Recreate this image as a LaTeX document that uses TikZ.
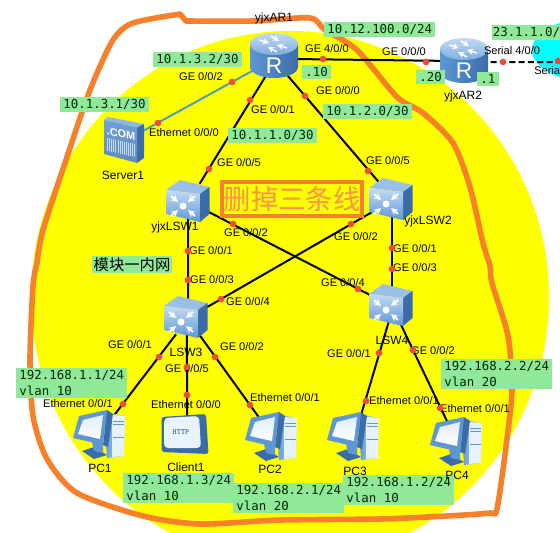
\documentclass[tikz,border=0pt]{standalone}
\usepackage{fontspec}
\setmainfont{Liberation Sans}
\newfontfamily\monolab{DejaVu Sans Mono}
\newfontfamily\cjkfont{Noto Sans CJK SC}
\definecolor{inkorange}{HTML}{F7812B}
\definecolor{labgreen}{HTML}{8FE998}
\definecolor{iconblue}{HTML}{5E97D6}
\definecolor{icondark}{HTML}{3A6DA8}
\definecolor{iconlight}{HTML}{C4DBF3}
\definecolor{zoneyellow}{HTML}{FFFF00}
\definecolor{zonecyan}{HTML}{00FFFF}
\definecolor{dotred}{HTML}{F04A3C}
\definecolor{linkteal}{HTML}{4F9FB8}
\tikzset{
	devbox/.style={inner sep=0pt,minimum size=25.5pt},
	link/.style={line width=1.5pt,black},
	ifdot/.style={circle,fill=dotred,inner sep=0pt,minimum size=5pt},
	iflabel/.style={font=\fontsize{8.3pt}{9pt}\selectfont,inner sep=0pt},
	devlabel/.style={font=\fontsize{9pt}{10pt}\selectfont,inner sep=0pt},
	greenbox/.style={fill=labgreen,anchor=north west,align=left,inner xsep=2.4pt,inner ysep=1.6pt,text=black!85!green,font=\monolab\fontsize{9.3pt}{12pt}\selectfont},
	routerpic/.pic={
		\shade[left color=iconblue,middle color=iconlight!70!iconblue,right color=icondark] (-24,-11) -- (-24,12) arc[start angle=180,end angle=0,x radius=24,y radius=11] -- (24,-11) -- cycle;
		\shade[top color=iconlight,bottom color=iconblue!80!white] (0,-11) ellipse[x radius=24,y radius=11];
		\foreach \xa/\ya/\xb/\yb in {-15/-15/-5/-12,13/-7/3/-10,-3/-19/5/-14,3/-3/-6/-8}
			\draw[white,line width=1.1pt,-stealth] (\xa,\ya) -- (\xb,\yb);
		\node[text=white,inner sep=0pt,font=\fontsize{17pt}{17pt}\selectfont] (-r) at (0,11) {R};
	},
	switchpic/.pic={
		\fill[iconlight!60!iconblue] (-22,-11) -- (-8,-21) -- (21.5,-14) -- (12,-7) -- cycle;
		\fill[icondark] (12,-7) -- (21.5,-14) -- (21.5,13) -- (12,21) -- cycle;
		\shade[top color=iconlight,bottom color=iconblue] (-22,-11) -- (12,-7) -- (12,21) -- (-22,13) -- cycle;
		\fill[white] (-5,5) circle (3.5);
		\foreach \dx/\dy in {-1/-1,1/-1,-1/1,1/1}
			\draw[white,line width=1.4pt,-stealth] ({-5+\dx*12},{5+\dy*10}) -- ({-5+\dx*5},{5+\dy*4});
	},
	serverpic/.pic={
		\fill[iconblue!70!white] (-20,-20) -- (-16,-23) -- (20,-16) -- (13,-12.5) -- cycle;
		\fill[icondark] (13,-12.5) -- (20,-16) -- (20,18) -- (13,23) -- cycle;
		\shade[top color=iconblue!90!white,bottom color=icondark!80!white] (-20,-20) -- (13,-12.5) -- (13,23) -- (-20,14) -- cycle;
		\foreach \x in {-17,-15,-13,-11,-9,-6,-4,-2,0,2,4,6,8,10}
			\draw[iconlight,line width=.5pt] (\x,{-20+(\x+20)*.23+17}) -- (\x,{-20+(\x+20)*.23+30});
		\node[text=white,inner sep=0pt,yslant=-.23,transform shape,font=\bfseries\fontsize{8.2pt}{9pt}\selectfont] (-com) at (-3,-6) {.COM};
	},
	pcpic/.pic={
		\shade[left color=iconblue,right color=iconlight] (4,-22) -- (25,-18) -- (24,22) -- (7,24) -- cycle;
		\fill[iconlight!40!white] (12,-19) -- (25,-18) -- (24,22) -- (12,23) -- cycle;
		\foreach \y in {-13,-10,3}
			\draw[iconblue,line width=.6pt] (13,\y) -- (24,\y);
		\fill[icondark] (-18,17) -- (-6,13) -- (7,21) -- (-6,25) -- cycle;
		\fill[iconblue] (-8,8) -- (3,10) -- (3,19) -- (-6,17) -- cycle;
		\fill[icondark] (7,-24) -- (13,-20) -- (8,13) -- (3,11) -- cycle;
		\fill[iconblue] (-21,-18) -- (7,-24) -- (3,11) -- (-27,4) -- cycle;
		\shade[top color=iconlight!50!white,bottom color=white] (-17,-14) -- (3,-19) -- (0,5) -- (-22,0) -- cycle;
	},
	clientpic/.pic={
		\fill[icondark,rounded corners=2pt] (-23.5,-17) -- (21,-20) -- (23.5,20) -- (-23.5,18) -- cycle;
		\fill[iconlight!35!white,rounded corners=3pt] (-21,-16) -- (14,-18) -- (16,14) -- (-21,14) -- cycle;
		\node[text=icondark,inner sep=0pt,font=\ttfamily\bfseries\fontsize{6pt}{7pt}\selectfont] (-http) at (-4,-2) {HTTP};
	},
}
\begin{document}
\begin{tikzpicture}[x=.75pt,y=-.75pt]
	\useasboundingbox (0,0) rectangle (560,532);
	\clip (0,0) rectangle (560,532);
	\fill[zoneyellow] (290,297) ellipse[x radius=259,y radius=266];
	\fill[zonecyan] (592,50) ellipse[x radius=60,y radius=32];
	% pen stroke
	\draw[inkorange,line width=4.2pt,line join=round,line cap=round] plot[smooth,tension=.45] coordinates {
		(37,263) (43,230) (67,157) (90,90) (113,40) (133,23) (180,14)} -- (186,21) -- plot[smooth,tension=.45] coordinates {
		(186,21) (253,21) (310,18) (325,30) (357,50) (397,97) (423,113) (453,143) (470,187) (483,243) (490,266)
		(492,283) (508,336) (512,389) (507,439) (497,509) (490,513) (447,516) (380,519) (280,520) (200,524) (143,516)
		(77,493) (47,459) (33,416) (30,359) (33,286) (37,263)};
	\node[devbox] (ar1) at (274,55) {};
	\node[devbox] (ar2) at (464,60) {};
	\node[devbox] (server1) at (124,140) {};
	\node[devbox] (lsw1) at (188,201) {};
	\node[devbox] (lsw2) at (391,199) {};
	\node[devbox] (lsw3) at (186,317) {};
	\node[devbox] (lsw4) at (391,305) {};
	\node[devbox] (pc1) at (100,434) {};
	\node[devbox] (client1) at (185,434) {};
	\node[devbox] (pc2) at (272,436) {};
	\node[devbox] (pc3) at (354,436) {};
	\node[devbox] (pc4) at (457,441) {};
	\coordinate (serialend) at (575,62);
	\draw[line width=1.5pt,color=linkteal] (ar1.-142) -- (server1.25);
	\draw[link] (ar1.-109) -- (lsw1.56);
	\draw[link] (ar1.-58) -- (lsw2.126);
	\draw[link] (ar1.-13) -- (ar2.183);
	\draw[link,dash pattern=on 4.5pt off 2.5pt] (ar2.-7) -- (serialend);
	\draw[link] (lsw1.-90) -- (lsw3.83);
	\draw[link] (lsw1.-28) -- (lsw4.155);
	\draw[link] (lsw2.-145) -- (lsw3.24);
	\draw[link] (lsw2.-87) -- (lsw4.87);
	\draw[link] (lsw3.-120) -- (pc1.53);
	\draw[link] (lsw3.-87) -- (client1.83);
	\draw[link] (lsw3.-53) -- (pc2.125);
	\draw[link] (lsw4.-98) -- (pc3.71);
	\draw[link] (lsw4.-63) -- (pc4.117);
	\pic (iconar1) at (ar1) {routerpic};
	\pic (iconar2) at (ar2) {routerpic};
	\pic (iconserver) at (server1) {serverpic};
	\pic at (lsw1) {switchpic};
	\pic at (lsw2) {switchpic};
	\pic at (lsw3) {switchpic};
	\pic at (lsw4) {switchpic};
	\pic at (pc1) {pcpic};
	\pic (iconclient) at (client1) {clientpic};
	\pic at (pc2) {pcpic};
	\pic at (pc3) {pcpic};
	\pic at (pc4) {pcpic};
	% address boxes
	\node[greenbox] (net1) at (153,52) {10.1.3.2/30};
	\node[greenbox] (net2) at (60,97) {10.1.3.1/30};
	\node[greenbox] (net3) at (228,128) {10.1.1.0/30};
	\node[greenbox] (net4) at (324,22) {10.12.100.0/24};
	\node[greenbox] (net5) at (302,65) {.10};
	\node[greenbox] (net6) at (416,70) {.20};
	\node[greenbox] (net7) at (477,72) {.1};
	\node[greenbox,inner xsep=.8pt] (net8) at (491.5,25) {23.1.1.0/};
	\node[greenbox] (net9) at (323,104) {10.1.2.0/30};
	\node[greenbox] (host1) at (16,368) {192.168.1.1/24\\vlan 10};
	\node[greenbox] (host2) at (123,473) {192.168.1.3/24\\vlan 10};
	\node[greenbox] (host3) at (233,483) {192.168.2.1/24\\vlan 20};
	\node[greenbox] (host4) at (343,475) {192.168.1.2/24\\vlan 10};
	\node[greenbox] (host5) at (441,359) {192.168.2.2/24\\vlan 20};
	\node[fill=labgreen,inner ysep=1pt,inner xsep=1pt,font=\cjkfont\fontsize{11.5pt}{12pt}\selectfont] (zone) at (132,264.5) {模块一内网};
	\node[draw=inkorange,line width=3pt,fill=zoneyellow,text=inkorange!85!white,minimum width=105pt,minimum height=26pt,inner sep=0pt,font=\cjkfont\fontsize{20.5pt}{22pt}\selectfont] (note) at (292,199) {删掉三条线};
	% device names
	\foreach \nm/\x/\y/\txt in {nar1/274/18/yjxAR1,nar2/463/96/yjxAR2,nsrv/123/175/Server1,nsw1/175/227/yjxLSW1,nsw2/428/221/yjxLSW2,
		nsw3/186/352/LSW3,nsw4/392/340/LSW4,npc1/100/468/PC1,ncl1/186/467/Client1,npc2/270/469/PC2,npc3/355/471/PC3,npc4/457/475/PC4}
		\node[devlabel] (\nm) at (\x,\y) {\txt};
	% interface names
	\foreach \nm/\x/\y/\txt in {
		ia/201/77/{GE 0/0/2},ib/184/133/{Ethernet 0/0/0},ic/273/110/{GE 0/0/1},id/239/163/{GE 0/0/5},
		ie/246/233/{GE 0/0/2},ig/211/251/{GE 0/0/1},ih/327/49/{GE 4/0/0},ii/404/52/{GE 0/0/0},
		ij/338/91/{GE 0/0/0},ik/388/161/{GE 0/0/5},il/356/237/{GE 0/0/2},im/415/249/{GE 0/0/1},
		io/415/268/{GE 0/0/3},ip/512/51/{Serial 4/0/0},iq/212/280/{GE 0/0/3},ir/248/302/{GE 0/0/4},
		is/130/345/{GE 0/0/1},it/187/369/{GE 0/0/5},iu/242/347/{GE 0/0/2},iv/78/404/{Ethernet 0/0/1},
		iw/186/405/{Ethernet 0/0/0},ix/285/398/{Ethernet 0/0/1},iy/343/283/{GE 0/0/4},iz/349/354/{GE 0/0/1},
		iaa/433/351/{GE 0/0/2},iab/404/401/{Ethernet 0/0/1},iac/475/409/{Ethernet 0/0/1}}
		\node[iflabel] (\nm) at (\x,\y) {\txt};
	\node[iflabel,anchor=west] (iad) at (534,71) {Seria};
	% interface dots
	\foreach \x/\y [count=\i] in {232/82,158/123,250/100,209/169,305/96,368/171,323/59,426/62,503/62,558/61,
		188/251,188/280,233/224,358/289,351/224,221/299,392/248,392/269,159/357,123/404,
		187/367,187/395,215/357,250/405,379/353,366/401,413/350,440/408}
		\node[ifdot] (dot\i) at (\x,\y) {};
\end{tikzpicture}
\end{document}
